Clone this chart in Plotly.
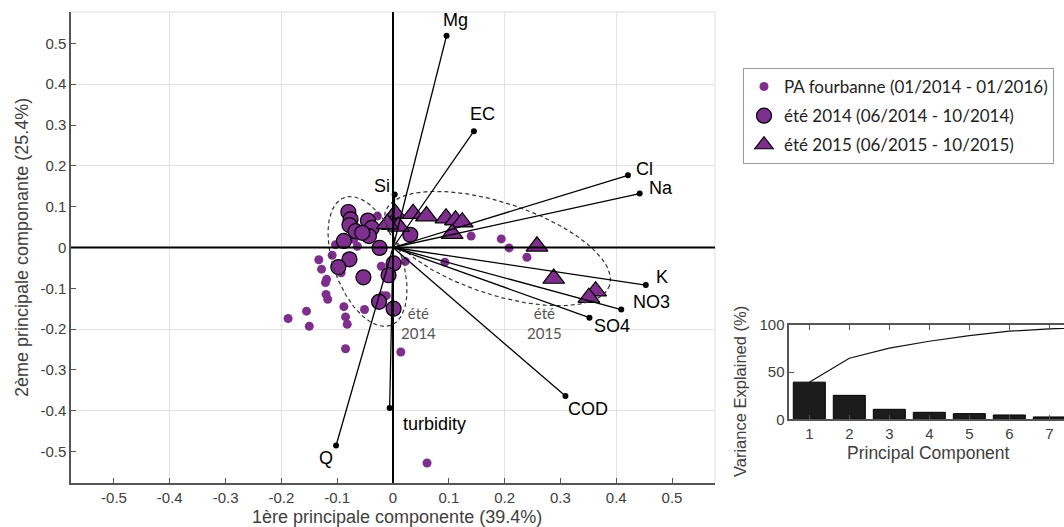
import numpy as np
import plotly.graph_objects as go

W, H = 1064, 527
PURPLE = "#7E2F8E"

# ---------------- data ----------------
# loadings (biplot vectors)
var_names = ["Mg", "EC", "Cl", "Na", "K", "NO3", "SO4", "Si", "COD", "turbidity", "Q"]
load_pc1 = [0.096, 0.145, 0.421, 0.442, 0.453, 0.409, 0.352, 0.003, 0.309, -0.006, -0.102]
load_pc2 = [0.519, 0.285, 0.177, 0.132, -0.092, -0.152, -0.172, 0.130, -0.364, -0.393, -0.485]

# all samples PA fourbanne (scores)
pa_pc1 = [-0.103, -0.109, -0.133, -0.128, -0.119, -0.121, -0.120, -0.117, -0.155, -0.188,
          -0.150, -0.088, -0.085, -0.082, -0.085, -0.093, -0.051, -0.021, -0.012, 0.014,
          0.061, 0.022, 0.093, 0.140, 0.194, 0.208, 0.240, -0.064, -0.028, -0.070,
          -0.040, -0.019]
pa_pc2 = [0.007, -0.019, -0.030, -0.053, -0.078, -0.086, -0.115, -0.127, -0.156, -0.174,
          -0.193, -0.145, -0.170, -0.188, -0.248, -0.062, -0.152, -0.046, -0.118, -0.256,
          -0.528, -0.034, -0.036, 0.028, 0.021, -0.001, -0.024, 0.003, 0.077, 0.020,
          0.070, -0.118]

# été 2014
s14_pc1 = [-0.080, -0.076, -0.078, -0.067, -0.088, -0.045, -0.038, -0.043, -0.055, -0.024,
           -0.078, -0.098, -0.053, 0.001, -0.008, -0.025, 0.001, 0.031]
s14_pc2 = [0.087, 0.069, 0.055, 0.040, 0.016, 0.066, 0.048, 0.028, 0.036, -0.001,
           -0.029, -0.048, -0.073, -0.039, -0.068, -0.133, -0.150, 0.031]

# été 2015
s15_pc1 = [0.004, -0.002, 0.010, -0.010, 0.036, 0.060, 0.095, 0.112, 0.124, 0.106,
           0.258, 0.288, 0.363, 0.351]
s15_pc2 = [0.083, 0.056, 0.052, 0.058, 0.083, 0.077, 0.072, 0.067, 0.062, 0.034,
           0.003, -0.076, -0.107, -0.123]

# explained variance (pareto inset)
pc_index = [1, 2, 3, 4, 5, 6, 7, 8, 9, 10]
var_explained = [39.4, 25.4, 10.6, 7.4, 6.0, 4.6, 2.5, 1.6, 1.2, 0.8]

x_tick_vals = [-0.5, -0.4, -0.3, -0.2, -0.1, 0, 0.1, 0.2, 0.3, 0.4, 0.5]
x_tick_text = ["-0.5", "-0.4", "-0.3", "-0.2", "-0.1", "0", "0.1", "0.2", "0.3", "0.4", "0.5"]
y_tick_vals = x_tick_vals
y_tick_text = x_tick_text
grid_vals = [-0.4, -0.2, 0.2, 0.4]

# ---------------- layout geometry (styles / positions) ----------------
RNG = [-0.577, 0.577]
MAIN_X = (71, 715)      # px
MAIN_Y = (12, 483)      # px (top, bottom)
kx = (MAIN_X[1] - MAIN_X[0]) / (RNG[1] - RNG[0])
ky = (MAIN_Y[1] - MAIN_Y[0]) / (RNG[1] - RNG[0])

label_dx = [9, 9, 17, 21, 16, 30, 23, -13, 23, 45, -10]
label_dy = [16, 17, 6, 6, 8, 8, -8, 8, -13, -16, -13]

# ellipses: center (data), semi-axes (px), direction of major axis (deg, screen)
ellipses = [
    dict(cx=-0.0457, cy=-0.0343, a=68, b=34, phi=70),
    dict(cx=0.1873, cy=-0.0025, a=118, b=46, phi=18.2),
]

INSET_X0 = 789.3
INSET_Y = (325, 419.3)
bar_px = 40.0

fig = go.Figure()

fig.add_trace(go.Scatter(
    x=pa_pc1, y=pa_pc2, mode="markers", name="PA fourbanne (01/2014 - 01/2016)",
    marker=dict(color=PURPLE, size=9, line=dict(width=0)), legendgroup="a"))
fig.add_trace(go.Scatter(
    x=s14_pc1, y=s14_pc2, mode="markers", name="été 2014 (06/2014 - 10/2014)",
    marker=dict(color=PURPLE, size=15, line=dict(color="black", width=1.2)), legendgroup="b"))
fig.add_trace(go.Scatter(
    x=s15_pc1, y=s15_pc2, mode="markers", name="été 2015 (06/2015 - 10/2015)",
    marker=dict(color=PURPLE, size=19, symbol="triangle-up", line=dict(color="black", width=1.2)),
    legendgroup="c"))

# dashed ellipses
t = np.linspace(0, 2 * np.pi, 200)
for e in ellipses:
    p = np.deg2rad(e["phi"])
    ux, uy = np.cos(p), np.sin(p)
    vx, vy = -np.sin(p), np.cos(p)
    dx = e["a"] * np.cos(t) * ux + e["b"] * np.sin(t) * vx
    dy = e["a"] * np.cos(t) * uy + e["b"] * np.sin(t) * vy
    fig.add_trace(go.Scatter(
        x=e["cx"] + dx / kx, y=e["cy"] - dy / ky, mode="lines", showlegend=False,
        hoverinfo="skip", line=dict(color="#333333", width=1.2, dash="4px,3px")))

# loading vectors
lx, ly = [], []
for a, b in zip(load_pc1, load_pc2):
    lx += [0, a, None]
    ly += [0, b, None]
fig.add_trace(go.Scatter(x=lx, y=ly, mode="lines", showlegend=False,
                         line=dict(color="black", width=1.3), hoverinfo="skip"))
fig.add_trace(go.Scatter(x=load_pc1, y=load_pc2, mode="markers", showlegend=False,
                         marker=dict(color="black", size=6)))

# inset pareto
fig.add_trace(go.Bar(x=pc_index, y=var_explained, xaxis="x2", yaxis="y2", showlegend=False,
                     width=0.8, marker=dict(color="#1c1c1c", line=dict(color="black", width=1))))
fig.add_trace(go.Scatter(x=pc_index, y=np.cumsum(var_explained), xaxis="x2", yaxis="y2",
                         mode="lines", showlegend=False, line=dict(color="#111111", width=1.2)))

annotations = []
for name, a, b, ddx, ddy in zip(var_names, load_pc1, load_pc2, label_dx, label_dy):
    annotations.append(dict(x=a, y=b, xref="x", yref="y", text=name, showarrow=False,
                            xshift=ddx, yshift=ddy, xanchor="center", yanchor="middle",
                            font=dict(family="Liberation Sans", size=18, color="black")))
for txt, xx in [("été<br>2014", 0.046), ("été<br>2015", 0.272)]:
    annotations.append(dict(x=xx, y=-0.186, xref="x", yref="y", text=txt, showarrow=False,
                            xanchor="center", yanchor="middle",
                            font=dict(family="Lato", size=15, color="#555555")))

titles = [
    ("1ère principale componente (39.4%)", 397, 517, 0, 18),
    ("2ème principale componante (25.4%)", 22, 248, -90, 18),
    ("Principal Component", 928, 453, 0, 17.5),
    ("Variance Explained (%)", 740, 392, -90, 16.5),
]
for txt, px, py, ang, fs in titles:
    annotations.append(dict(x=px / W, y=1 - py / H, xref="paper", yref="paper", text=txt,
                            showarrow=False, textangle=ang, xanchor="center", yanchor="middle",
                            font=dict(family="Liberation Sans", size=fs, color="#404040")))

shapes = [
    dict(type="line", xref="x", yref="y domain", x0=0, x1=0, y0=0, y1=1,
         line=dict(color="black", width=2), layer="above"),
    dict(type="line", xref="x domain", yref="y", x0=0, x1=1, y0=0, y1=0,
         line=dict(color="black", width=2), layer="above"),
    dict(type="line", xref="x domain", yref="y domain", x0=0, x1=1, y0=1, y1=1,
         line=dict(color="#dddddd", width=1), layer="below"),
    dict(type="line", xref="x domain", yref="y domain", x0=1, x1=1, y0=0, y1=1,
         line=dict(color="#dddddd", width=1), layer="below"),
]

axis_common = dict(showline=True, linecolor="#555555", linewidth=1.5, ticks="inside", ticklen=5,
                   tickcolor="#555555", showgrid=False, zeroline=False, automargin=False,
                   tickfont=dict(family="Liberation Sans", size=15, color="#404040"))

fig.update_layout(
    width=W, height=H, autosize=False, margin=dict(l=0, r=0, t=0, b=0, pad=0),
    paper_bgcolor="white", plot_bgcolor="white",
    xaxis=dict(domain=[MAIN_X[0] / W, MAIN_X[1] / W], range=RNG, tickvals=x_tick_vals,
               ticktext=x_tick_text, anchor="y",
               minor=dict(tickvals=grid_vals, showgrid=True, gridcolor="#e3e3e3", gridwidth=1, ticks=""),
               **axis_common),
    yaxis=dict(domain=[1 - MAIN_Y[1] / H, 1 - MAIN_Y[0] / H], range=RNG, tickvals=y_tick_vals,
               ticktext=y_tick_text, anchor="x",
               minor=dict(tickvals=grid_vals, showgrid=True, gridcolor="#e3e3e3", gridwidth=1, ticks=""),
               **axis_common),
    xaxis2=dict(domain=[INSET_X0 / W, 1.0], range=[0.5, 0.5 + (W - INSET_X0) / bar_px],
                tickvals=pc_index, anchor="y2", mirror="ticks", **axis_common),
    yaxis2=dict(domain=[1 - INSET_Y[1] / H, 1 - INSET_Y[0] / H], range=[0, 100],
                tickvals=[0, 50, 100], anchor="x2", **axis_common),
    legend=dict(x=743 / W, y=1 - 68 / H, xanchor="left", yanchor="top",
                bordercolor="#999999", borderwidth=1, bgcolor="white",
                font=dict(family="Lato", size=17, color="#222222"),
                traceorder="grouped", tracegroupgap=4),
    annotations=annotations, shapes=shapes, showlegend=True,
)

fig.write_html(
    "out.html",
    config={"displayModeBar": False},
    post_script="document.documentElement.style.margin='0';document.body.style.margin='0';"
                "document.body.style.overflow='hidden';",
)
